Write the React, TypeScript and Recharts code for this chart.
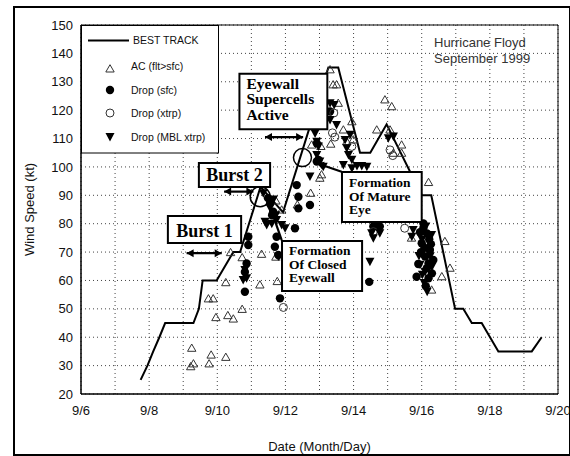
import {
  ComposedChart,
  Line,
  Scatter,
  XAxis,
  YAxis,
  CartesianGrid,
  ReferenceArea,
  ReferenceLine,
  ReferenceDot,
} from 'recharts'

// axis ticks (day of September, knots)
const dayTicks = [6, 7, 8, 9, 10, 11, 12, 13, 14, 15, 16, 17, 18, 19, 20]
const ktTicks = [20, 30, 40, 50, 60, 70, 80, 90, 100, 110, 120, 130, 140, 150]

// [day, kt]
const bestTrack: [number, number][] = [
  [7.75, 25], [7.95, 30], [8.12, 35], [8.3, 40], [8.47, 45], [9.3, 45], [9.46, 50], [9.57, 60],
  [9.98, 60], [10.47, 70], [10.67, 70], [11.27, 93], [11.93, 84], [13.26, 135], [13.55, 135],
  [14.19, 105], [14.49, 105], [14.97, 115], [16.0, 90], [16.28, 90], [16.98, 50], [17.22, 50],
  [17.47, 45], [17.76, 45], [18.25, 35], [19.23, 35], [19.52, 40],
]

const acFlt: [number, number][] = [
  [9.25, 36.1], [9.22, 29.6], [9.3, 30.6], [9.76, 30.6], [9.82, 33.7], [10.25, 32.9],
  [9.74, 53.5], [9.88, 53.5], [9.96, 46.9], [10.31, 47.6], [10.47, 46.4], [10.73, 49.8],
  [10.25, 59.2], [10.39, 69.8], [10.73, 68], [11.3, 69.2], [11.25, 58.4], [11.72, 68.2],
  [11.76, 59.6], [12.74, 90.7], [13.01, 96], [12.35, 86.6], [12.77, 107.7], [13.04, 107.2],
  [13.33, 108], [13.31, 134.2], [13.4, 128.9], [13.5, 128.9], [13.55, 122.4], [13.95, 115.9],
  [13.7, 113], [13.99, 109.5], [13.8, 108.9], [13.06, 97.2], [14.68, 113], [14.92, 123.6],
  [15.12, 121.2], [15.07, 113], [15.17, 104.8], [15.41, 107.7], [15.41, 104.8], [16.2, 94.5],
  [15.7, 74.9], [16.68, 73.7], [16.83, 64.3], [16.59, 61.3], [16.29, 56.6], [11.89, 84.8],
  [11.72, 88],
]

const dropSfc: [number, number][] = [
  [10.91, 75.4], [10.91, 72.5], [10.86, 66], [10.81, 63], [10.81, 56], [11.74, 75.4],
  [11.69, 71.9], [11.79, 69], [11.84, 53.7], [11.55, 87.2], [11.64, 84.2], [11.49, 89],
  [11.61, 83], [12.33, 93.6], [12.38, 89.5], [12.38, 85.4], [12.72, 86.6], [12.92, 101.9],
  [12.97, 102.5], [13.31, 119.5], [12.28, 78.4], [12.92, 108.3], [14.58, 79], [14.68, 80.1],
  [14.77, 79], [14.46, 59.5], [15.85, 61.3], [16.05, 80.1], [16.15, 76.6], [16.0, 73.1],
  [16.24, 70.7], [16.1, 68.4], [16.34, 67.2], [16.15, 64.3], [15.9, 65.8], [16.2, 60.8],
  [15.95, 77], [16.27, 72.8], [16.08, 71.5], [16.2, 66], [16.12, 58], [16.3, 62.5],
  [16.05, 78.5], [16.22, 74.5], [15.98, 70],
]

const dropXtrp: [number, number][] = [
  [11.94, 50.5], [13.42, 119], [13.38, 112], [13.45, 110.5], [13.95, 107.2], [15.07, 106],
  [15.15, 104], [14.58, 77.2], [15.5, 78.4],
]

const dropMbl: [number, number][] = [
  [11.35, 90.7], [11.4, 80.7], [11.74, 81.3], [11.89, 79.5], [11.45, 79.5], [11.99, 78.4],
  [10.81, 63.7], [10.76, 60.2], [10.86, 60.8], [11.79, 68.4], [11.55, 85.5], [11.72, 83],
  [12.72, 96.6], [12.87, 111.8], [12.92, 108.9], [12.97, 107.2], [12.92, 104.2], [13.01, 101.9],
  [13.11, 100.1], [13.31, 122.4], [13.43, 121.8], [13.31, 116.5], [13.5, 114.8], [13.9, 111.3],
  [13.75, 109.5], [13.8, 106.6], [13.85, 104.2], [13.95, 102.5], [13.95, 99.5], [14.1, 100.3],
  [14.24, 100.3], [14.39, 100.1], [13.7, 100.7], [15.17, 110.7], [15.02, 110.1], [14.58, 74.9],
  [14.48, 66.6], [14.53, 76.6], [14.77, 76.6], [15.75, 77.8], [15.71, 75.4], [16.29, 76],
  [15.95, 65.5], [16.1, 63.1], [16.01, 74.3], [16.18, 70.7], [15.92, 68.6], [16.07, 59.1],
  [16.16, 56], [16.12, 79], [16.25, 68.5], [16.02, 62], [16.3, 64.8], [11.6, 80], [11.65, 88.5],
]

// annotation boxes, in data units
const boxes = [
  { x1: 8.55, x2: 10.7, y1: 73.2, y2: 82.7, lines: ['Burst 1'], size: 18, center: true, top: 21, step: 0 },
  { x1: 9.46, x2: 11.55, y1: 92.9, y2: 101.4, lines: ['Burst 2'], size: 18, center: true, top: 18, step: 0 },
  { x1: 10.65, x2: 13.23, y1: 113.3, y2: 132.8, lines: ['Eyewall', 'Supercells', 'Active'], size: 15.5, center: false, top: 15, step: 15.5 },
  { x1: 11.9, x2: 14.25, y1: 56.3, y2: 73.9, lines: ['Formation', 'Of Closed', 'Eyewall'], size: 13.5, center: false, top: 14, step: 13.5 },
  { x1: 13.66, x2: 16.0, y1: 80.6, y2: 98.2, lines: ['Formation', 'Of Mature', 'Eye'], size: 13.5, center: false, top: 15, step: 13.5 },
]

const doubleArrows = [
  { from: { x: 9.1, y: 69.6 }, to: { x: 10.13, y: 69.6 } },
  { from: { x: 10.2, y: 91.3 }, to: { x: 11.06, y: 91.3 } },
  { from: { x: 11.4, y: 110.5 }, to: { x: 12.52, y: 110.5 } },
]

const leaders = [
  { from: { x: 11.89, y: 74.2 }, to: { x: 11.55, y: 85.9 } },
  { from: { x: 13.65, y: 98.3 }, to: { x: 12.92, y: 101.3 } },
]

const rings = [
  { x: 11.26, y: 89.5, r: 10 },
  { x: 12.5, y: 103.3, r: 9 },
]

const toPts = (arr: [number, number][]) => arr.map(([day, kt]) => ({ day, kt }))

const serif = '"Liberation Serif", "Times New Roman", serif'
const sans = '"Liberation Sans", Arial, sans-serif'

const MARGIN = { top: 25, right: 12, left: 13, bottom: 2 }

function OpenTriangle({ cx, cy }: any) {
  return <path d={`M${cx},${cy - 4.3}L${cx + 4.2},${cy + 3}L${cx - 4.2},${cy + 3}Z`} fill="none" stroke="#333" strokeWidth={1} />
}
function DownTriangle({ cx, cy }: any) {
  return <path d={`M${cx - 4.5},${cy - 4}L${cx + 4.5},${cy - 4}L${cx},${cy + 4.5}Z`} fill="#000" />
}
function FilledCircle({ cx, cy }: any) {
  return <circle cx={cx} cy={cy} r={4.2} fill="#000" />
}
function OpenCircle({ cx, cy }: any) {
  return <circle cx={cx} cy={cy} r={4} fill="none" stroke="#333" strokeWidth={1} />
}

function head(x: number, y: number, ux: number, uy: number) {
  const len = 7
  const w = 4
  const bx = x - ux * len
  const by = y - uy * len
  return `${x},${y} ${bx - uy * w},${by + ux * w} ${bx + uy * w},${by - ux * w}`
}

function Arrow(props: any) {
  const { x1, y1, x2, y2, both } = props
  const dx = x2 - x1
  const dy = y2 - y1
  const d = Math.hypot(dx, dy) || 1
  const ux = dx / d
  const uy = dy / d
  return (
    <g>
      <line x1={x1} y1={y1} x2={x2} y2={y2} stroke="#000" strokeWidth={2.2} />
      <polygon points={head(x2, y2, ux, uy)} fill="#000" />
      {both && <polygon points={head(x1, y1, -ux, -uy)} fill="#000" />}
    </g>
  )
}

function BoxLabel({ viewBox, box }: any) {
  const { x, y, width } = viewBox
  const tx = box.center ? x + width / 2 : x + 7
  return (
    <text x={tx} y={y + box.top} textAnchor={box.center ? 'middle' : 'start'} fontFamily={serif} fontWeight="bold" fontSize={box.size} fill="#000">
      {box.lines.map((l: string, i: number) => (
        <tspan key={i} x={tx} dy={i === 0 ? 0 : box.step}>
          {l}
        </tspan>
      ))}
    </text>
  )
}

function LegendBox() {
  const items = [
    { label: 'AC (flt>sfc)', y: 41, shape: <OpenTriangle cx={29} cy={44} /> },
    { label: 'Drop (sfc)', y: 65, shape: <FilledCircle cx={29} cy={65} /> },
    { label: 'Drop (xtrp)', y: 88, shape: <OpenCircle cx={29} cy={88} /> },
    { label: 'Drop (MBL xtrp)', y: 112, shape: <DownTriangle cx={29} cy={112} /> },
  ]
  return (
    <svg width={138} height={129} style={{ position: 'absolute', left: 81, top: 25 }}>
      <rect x={0.5} y={0.5} width={137} height={127.5} fill="#fff" stroke="#000" strokeWidth={1} />
      <line x1={7} y1={15.5} x2={48} y2={15.5} stroke="#000" strokeWidth={2} />
      <text x={52} y={19} fontFamily={sans} fontSize={10.5} fill="#111">BEST TRACK</text>
      {items.map((it) => (
        <g key={it.label}>
          {it.shape}
          <text x={50} y={it.y + 4} fontFamily={sans} fontSize={10.5} fill="#111">{it.label}</text>
        </g>
      ))}
    </svg>
  )
}

// the same axes, drawn without ink, so the annotations sit above the data
function AnnotationLayer() {
  return (
    <ComposedChart width={570} height={456} margin={MARGIN} style={{ position: 'absolute', left: 0, top: 0 }}>
      <XAxis dataKey="day" type="number" domain={[6, 20]} ticks={dayTicks} tick={false} tickLine={false} axisLine={false} height={60} allowDataOverflow />
      <YAxis dataKey="kt" type="number" domain={[20, 150]} ticks={ktTicks} tick={false} tickLine={false} axisLine={false} width={68} allowDataOverflow />
      {boxes.map((b, i) => (
        <ReferenceArea
          key={'b' + i}
          x1={b.x1}
          x2={b.x2}
          y1={b.y1}
          y2={b.y2}
          fill="#fff"
          fillOpacity={1}
          stroke="#000"
          strokeWidth={2}
          label={(p: any) => <BoxLabel {...p} box={b} />}
        />
      ))}
      {rings.map((c, i) => (
        <ReferenceDot key={'r' + i} x={c.x} y={c.y} r={c.r} fill="none" stroke="#000" strokeWidth={1.5} />
      ))}
      {doubleArrows.map((a, i) => (
        <ReferenceLine key={'d' + i} segment={[a.from, a.to]} shape={(p: any) => <Arrow {...p} both />} />
      ))}
      {leaders.map((a, i) => (
        <ReferenceLine key={'l' + i} segment={[a.from, a.to]} shape={(p: any) => <Arrow {...p} />} />
      ))}
    </ComposedChart>
  )
}

export default function App() {
  return (
    <div style={{ position: 'absolute', left: 0, top: 0, width: 570, height: 456, background: '#fff' }}>
      <div style={{ position: 'absolute', left: 13, top: 6, width: 554, height: 446, border: '2px solid #000' }} />
      <ComposedChart width={570} height={456} margin={MARGIN} style={{ position: 'absolute', left: 0, top: 0 }}>
        <CartesianGrid stroke="#444" strokeDasharray="1 3" />
        <XAxis
          dataKey="day"
          type="number"
          domain={[6, 20]}
          ticks={dayTicks}
          tickFormatter={(d: number) => (d % 2 === 0 ? `9/${d}` : '')}
          tickLine={false}
          tickMargin={6}
          axisLine={{ stroke: '#000' }}
          height={60}
          tick={{ fontSize: 13, fill: '#111', fontFamily: sans }}
          label={{ value: 'Date (Month/Day)', position: 'insideBottom', offset: 3, style: { fontSize: 13, fill: '#111', fontFamily: sans } }}
          allowDataOverflow
        />
        <YAxis
          dataKey="kt"
          type="number"
          domain={[20, 150]}
          ticks={ktTicks}
          tickLine={false}
          axisLine={{ stroke: '#000' }}
          width={68}
          tick={{ fontSize: 13, fill: '#111', fontFamily: sans }}
          label={{ value: 'Wind Speed (kt)', angle: -90, position: 'insideLeft', offset: 16, style: { textAnchor: 'middle', fontSize: 13, fill: '#111', fontFamily: sans } }}
          allowDataOverflow
        />
        <ReferenceArea x1={6} x2={20} y1={20} y2={150} fill="none" stroke="#000" strokeWidth={1} />
        <Line data={toPts(bestTrack)} dataKey="kt" stroke="#000" strokeWidth={2} dot={false} isAnimationActive={false} />
        <Scatter data={toPts(acFlt)} dataKey="kt" shape={OpenTriangle} isAnimationActive={false} />
        <Scatter data={toPts(dropSfc)} dataKey="kt" shape={FilledCircle} isAnimationActive={false} />
        <Scatter data={toPts(dropXtrp)} dataKey="kt" shape={OpenCircle} isAnimationActive={false} />
        <Scatter data={toPts(dropMbl)} dataKey="kt" shape={DownTriangle} isAnimationActive={false} />
      </ComposedChart>
      <AnnotationLayer />
      <LegendBox />
      <div style={{ position: 'absolute', left: 434, top: 35, fontFamily: sans, fontSize: 13, lineHeight: '16px', color: '#333' }}>
        Hurricane Floyd
        <br />
        September 1999
      </div>
    </div>
  )
}
